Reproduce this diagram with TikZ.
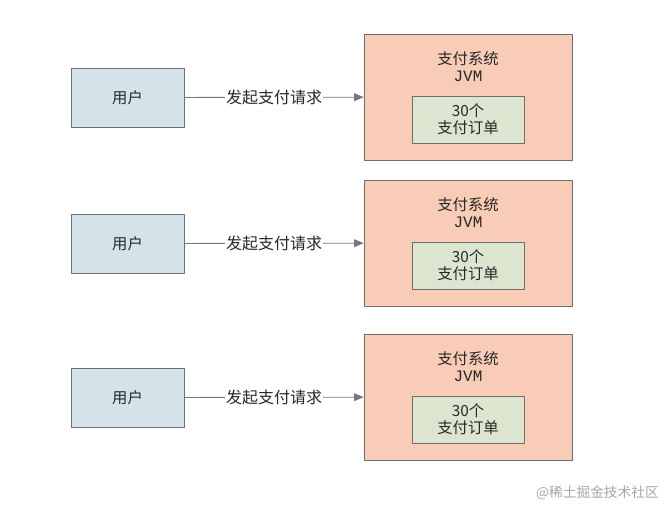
\documentclass[tikz,border=0pt]{standalone}
\usepackage{fontspec}
\setmainfont{Noto Sans CJK SC}
\newfontfamily\jvmfont{Liberation Mono}
\usetikzlibrary{arrows}
\definecolor{userblue}{RGB}{211,227,233}
\definecolor{syssalmon}{RGB}{248,204,182}
\definecolor{ordergreen}{RGB}{219,229,207}
\definecolor{boxgray}{RGB}{110,110,110}
\definecolor{linegray}{RGB}{120,120,120}
\definecolor{textgray}{RGB}{40,40,40}

\begin{document}
\begin{tikzpicture}[x=0.75pt,y=-0.75pt,line cap=round,line join=round,>=triangle 45,
  userbox/.style={draw=boxgray,fill=userblue,line width=0.6pt,minimum width=84.75pt,minimum height=44.25pt,inner sep=0pt,text=textgray,font=\fontsize{11.5}{13}\selectfont},
  sysbox/.style={draw=boxgray,fill=syssalmon,line width=0.6pt,minimum width=156pt,minimum height=94.5pt,inner sep=0pt},
  orderbox/.style={draw=boxgray,fill=ordergreen,line width=0.6pt,minimum width=84pt,minimum height=35.25pt,inner sep=0pt,align=center,text=textgray,font=\fontsize{11.5}{12.75}\selectfont},
  titletext/.style={align=center,inner sep=0pt,text=textgray,font=\fontsize{11.5}{12.75}\selectfont}]
    \useasboundingbox (0,0) rectangle (665,507);
    \foreach \dy/\n in {0/a,146/b,300/c}{
      \node[userbox] (user\n) at (127.5,97.5+\dy) {用户};
      \node[sysbox] (sys\n) at (468,97+\dy) {};
      \node[orderbox] (order\n) at (468,119.5+\dy) {30个\\支付订单};
      \node[titletext] (title\n) at (468,66.5+\dy) {支付系统\\{\jvmfont\fontsize{12}{12.75}\selectfont JVM}};
      \draw [->,line width=0.6pt,color=linegray] (user\n) -- node[fill=white,inner sep=1pt,text=textgray,font=\fontsize{12}{13}\selectfont] (req\n) {发起支付请求} (sys\n);
    }
    \node[text=black!35,font=\fontsize{10.3}{12}\selectfont] (watermark) at (597.5,493) {@稀土掘金技术社区};
\end{tikzpicture}
\end{document}
